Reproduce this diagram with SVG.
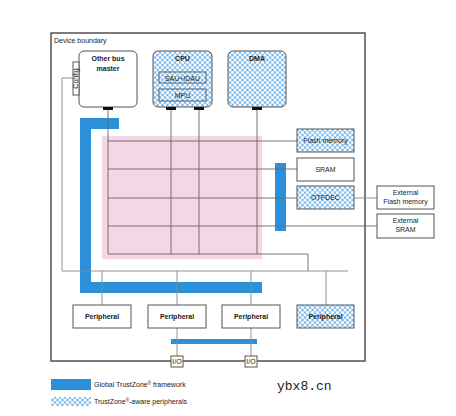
<svg xmlns="http://www.w3.org/2000/svg" width="456" height="416" viewBox="0 0 456 416">
<defs>
<pattern id="hatch" width="5" height="5" patternUnits="userSpaceOnUse">
<rect width="5" height="5" fill="#6fb4ec"/>
<circle cx="0" cy="0" r="1.6" fill="#fff"/>
<circle cx="5" cy="0" r="1.6" fill="#fff"/>
<circle cx="0" cy="5" r="1.6" fill="#fff"/>
<circle cx="5" cy="5" r="1.6" fill="#fff"/>
<circle cx="2.5" cy="2.5" r="1.6" fill="#fff"/>
</pattern>
<style>
text{font-family:"Liberation Sans",Arial,sans-serif;fill:#222;font-size:7px}
.b{font-weight:bold}
.box{fill:#fff;stroke:#555;stroke-width:1}
.hb{fill:url(#hatch);stroke:#555;stroke-width:1}
.ln{fill:none;stroke:#888;stroke-width:0.9}
.gl{fill:none;stroke:#666;stroke-width:0.9}
.blue{fill:#2b90d9}
.conn{fill:#111}
</style>
</defs>
<rect width="456" height="416" fill="#fff"/>
<g id="boundary">
<rect x="51" y="33" width="314" height="328" fill="none" stroke="#444" stroke-width="1.4"/>
<text x="54" y="43">Device boundary</text>
</g>
<g id="pink">
<rect x="102" y="136" width="160" height="123" fill="#f4d6e5"/>
</g>
<g id="blue-frames">
<path class="blue" d="M80 118H119V129H91V282H262V293H80Z"/>
<rect class="blue" x="275" y="163" width="11" height="68"/>
<rect class="blue" x="171" y="339" width="86" height="5"/>
</g>
<g id="connectors">
<path class="ln" d="M73 78H62V271H348"/>
<path class="gl" d="M108 110V254M171 110V254M199 110V254M257 110V254"/>
<path class="gl" d="M108 141H297M108 169H297M108 198H297M108 226H377M108 254H308V271"/>
<path class="ln" d="M354 198H377"/>
<path class="ln" d="M102 271V305M177 271V305M251 271V305M326 271V305"/>
<path class="ln" d="M177 328V356M251 328V356"/>
</g>
<g id="other-bus-master">
<rect class="box" x="79" y="51" width="58" height="56" rx="5"/>
<rect class="box" x="73" y="62" width="6" height="33"/>
<text x="77.6" y="78.5" font-size="5" text-anchor="middle" transform="rotate(-90 77.6 78.5)">Config</text>
<text class="b" x="108" y="61" text-anchor="middle" font-size="7.5">Other bus</text>
<text class="b" x="108" y="71" text-anchor="middle" font-size="7.5">master</text>
<rect class="conn" x="103" y="107" width="10" height="3"/>
</g>
<g id="cpu">
<rect class="hb" x="153" y="51" width="59" height="56" rx="5"/>
<text class="b" x="182.5" y="61" text-anchor="middle">CPU</text>
<rect x="159" y="72" width="47" height="11" fill="none" stroke="#555" stroke-width="0.9"/>
<text x="182.5" y="80.5" text-anchor="middle">SAU+IDAU</text>
<rect x="159" y="89" width="47" height="12" fill="none" stroke="#555" stroke-width="0.9"/>
<text x="182.5" y="97.5" text-anchor="middle">MPU</text>
<rect class="conn" x="166" y="107" width="10" height="3"/>
<rect class="conn" x="194" y="107" width="10" height="3"/>
</g>
<g id="dma">
<rect class="hb" x="228" y="51" width="58" height="56" rx="5"/>
<text class="b" x="257" y="61" text-anchor="middle">DMA</text>
<rect class="conn" x="252" y="107" width="10" height="3"/>
</g>
<g id="flash">
<rect class="hb" x="297" y="129" width="57" height="23"/>
<text x="325.5" y="143" text-anchor="middle">Flash memory</text>
</g>
<g id="sram">
<rect class="box" x="297" y="158" width="57" height="23"/>
<text x="325.5" y="172" text-anchor="middle">SRAM</text>
</g>
<g id="otfdec">
<rect class="hb" x="297" y="186" width="57" height="23"/>
<text x="325.5" y="200" text-anchor="middle">OTFDEC</text>
</g>
<g id="ext-flash">
<rect class="box" x="377" y="186" width="57" height="23"/>
<text x="405.5" y="195" text-anchor="middle">External</text>
<text x="405.5" y="204" text-anchor="middle">Flash memory</text>
</g>
<g id="ext-sram">
<rect class="box" x="377" y="214" width="57" height="24"/>
<text x="405.5" y="223" text-anchor="middle">External</text>
<text x="405.5" y="232" text-anchor="middle">SRAM</text>
</g>
<g id="peripheral-1">
<rect class="box" x="73" y="305" width="58" height="23"/>
<text class="b" x="102" y="319" text-anchor="middle" fill="#333">Peripheral</text>
</g>
<g id="peripheral-2">
<rect class="box" x="148" y="305" width="58" height="23"/>
<text class="b" x="177" y="319" text-anchor="middle">Peripheral</text>
</g>
<g id="peripheral-3">
<rect class="box" x="222" y="305" width="58" height="23"/>
<text class="b" x="251" y="319" text-anchor="middle">Peripheral</text>
</g>
<g id="peripheral-4">
<rect class="hb" x="297" y="305" width="57" height="23"/>
<text class="b" x="325.5" y="319" text-anchor="middle">Peripheral</text>
</g>
<g id="io-1">
<rect class="box" x="171" y="356" width="12" height="11"/>
<text x="177" y="364" font-size="6" text-anchor="middle">I/O</text>
</g>
<g id="io-2">
<rect class="box" x="245" y="356" width="12" height="11"/>
<text x="251" y="364" font-size="6" text-anchor="middle">I/O</text>
</g>
<g id="legend">
<rect class="blue" x="51" y="379" width="40" height="11"/>
<text x="94" y="387">Global TrustZone<tspan font-size="4.5" dy="-2.5">®</tspan><tspan dy="2.5"> framework</tspan></text>
<rect x="51" y="397" width="40" height="9" fill="url(#hatch)"/>
<text x="94" y="404">TrustZone<tspan font-size="4.5" dy="-2.5">®</tspan><tspan dy="2.5">-aware peripherals</tspan></text>
</g>
<text x="277" y="390" font-family="'Liberation Mono','DejaVu Sans Mono',monospace" font-size="13" style="font-family:'Liberation Mono','DejaVu Sans Mono',monospace;font-size:13px">ybx8.cn</text>
</svg>
